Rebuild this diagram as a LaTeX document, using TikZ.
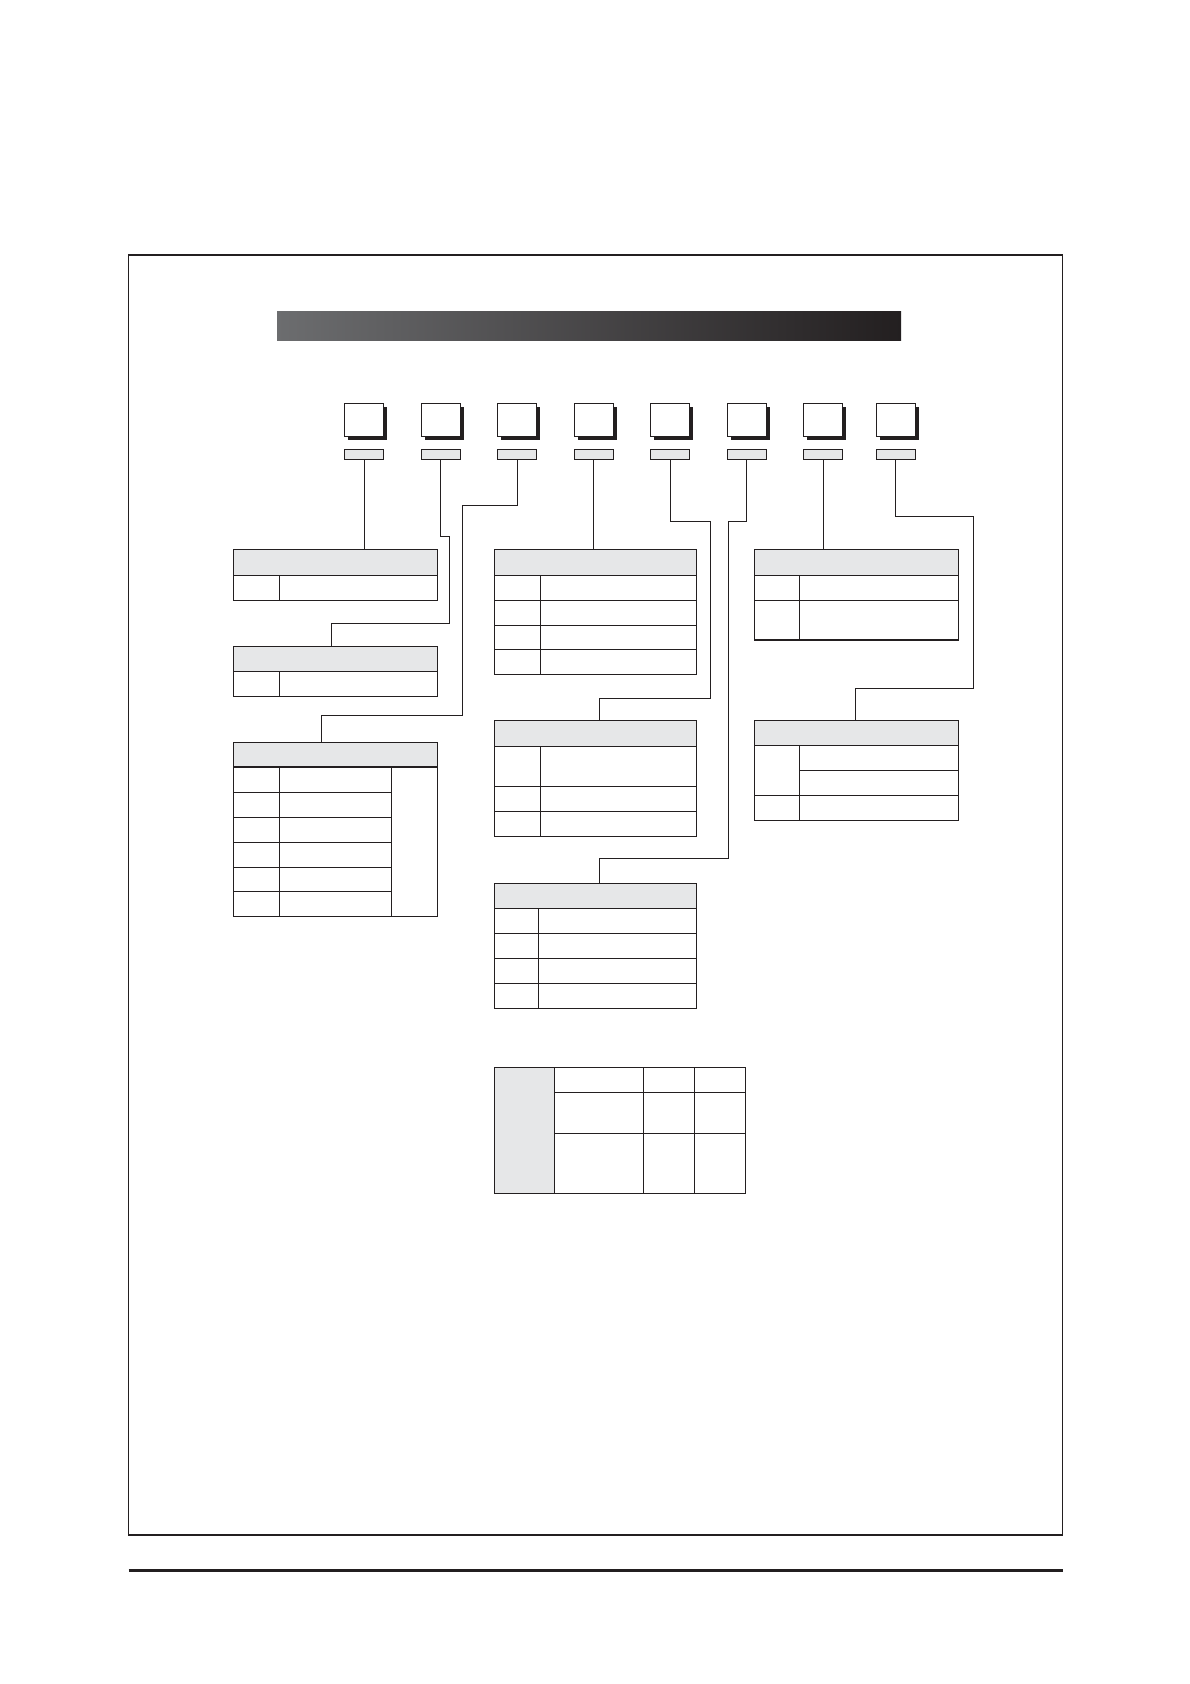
\documentclass[tikz,border=0pt]{standalone}
\usetikzlibrary{positioning,shadows}
\definecolor{encre}{RGB}{35,31,32}
\definecolor{grisclair}{RGB}{230,231,232}
\definecolor{grisbarre}{RGB}{108,109,111}
\begin{document}
\begin{tikzpicture}[
  x=1pt, y=-1pt,
  cadre/.style={draw=encre, line width=1.3pt},
  touche/.style={rectangle, draw=encre, fill=white, line width=1pt, minimum width=39pt, minimum height=33pt, inner sep=0pt,
    drop shadow={shadow xshift=3.3pt, shadow yshift=-3.3pt, fill=encre, opacity=1}},
  onglet/.style={rectangle, draw=encre, fill=grisclair, line width=0.8pt, minimum width=39pt, minimum height=10.5pt, inner sep=0pt},
  entete/.style={rectangle, draw=encre, fill=grisclair, line width=1.2pt, inner sep=0pt, outer sep=0pt},
  corps/.style={rectangle, draw=encre, line width=1.2pt, inner sep=0pt, outer sep=0pt},
  trait/.style={draw=encre, line width=1.1pt},
  fil/.style={draw=encre, line width=1pt}
]
  \useasboundingbox (0,0) rectangle (1190,1684);

  % Cadre et filet
  \draw[cadre] (128.5,255) rectangle (1062.5,1535);
  \draw[encre, line width=2.2pt] (128.5,1570.5) -- (1062.5,1570.5);

  % Barre de titre
  \shade[left color=grisbarre, right color=encre] (277,311) rectangle (901,340.7);

  % Touches et onglets
  \foreach \x [count=\i] in {364.3,440.8,517.3,593.8,670.3,746.7,823.3,895.7} {
    \node[touche] (touche\i) at (\x,420.3) {};
    \node[onglet] (onglet\i) at (\x,454.3) {};
  }

  % Tableau A
  \node[entete, minimum width=204pt, minimum height=26pt] (enteteA) at (335.3,562.3) {};
  \node[corps, minimum width=204pt, minimum height=25pt, below=0pt of enteteA] (corpsA) {};
  \draw[trait] ([xshift=46pt]corpsA.north west) -- ([xshift=46pt]corpsA.south west);

  % Tableau B
  \node[entete, minimum width=204pt, minimum height=25pt] (enteteB) at (335.3,658.8) {};
  \node[corps, minimum width=204pt, minimum height=25pt, below=0pt of enteteB] (corpsB) {};
  \draw[trait] ([xshift=46pt]corpsB.north west) -- ([xshift=46pt]corpsB.south west);

  % Tableau C
  \node[entete, minimum width=204pt, minimum height=24.7pt] (enteteC) at (335.3,754.7) {};
  \node[corps, minimum width=204pt, minimum height=149.3pt, below=0pt of enteteC] (corpsC) {};
  \draw[trait] ([xshift=46pt]corpsC.north west) -- ([xshift=46pt]corpsC.south west);
  \draw[trait] ([xshift=158pt]corpsC.north west) -- ([xshift=158pt]corpsC.south west);
  \foreach \d in {25,50.3,75.3,100.3,124.3}
    \draw[trait] ([yshift=-\d pt]corpsC.north west) -- ([xshift=158pt, yshift=-\d pt]corpsC.north west);

  % Tableau D
  \node[entete, minimum width=202pt, minimum height=26pt] (enteteD) at (595.3,562.3) {};
  \node[corps, minimum width=202pt, minimum height=99pt, below=0pt of enteteD] (corpsD) {};
  \draw[trait] ([xshift=46pt]corpsD.north west) -- ([xshift=46pt]corpsD.south west);
  \foreach \d in {25,50,74}
    \draw[trait] ([yshift=-\d pt]corpsD.north west) -- ([yshift=-\d pt]corpsD.north east);

  % Tableau E
  \node[entete, minimum width=202pt, minimum height=26pt] (enteteE) at (595.3,733.3) {};
  \node[corps, minimum width=202pt, minimum height=90pt, below=0pt of enteteE] (corpsE) {};
  \draw[trait] ([xshift=46pt]corpsE.north west) -- ([xshift=46pt]corpsE.south west);
  \foreach \d in {40,65}
    \draw[trait] ([yshift=-\d pt]corpsE.north west) -- ([yshift=-\d pt]corpsE.north east);

  % Tableau F
  \node[entete, minimum width=202pt, minimum height=25pt] (enteteF) at (595.3,895.8) {};
  \node[corps, minimum width=202pt, minimum height=100pt, below=0pt of enteteF] (corpsF) {};
  \draw[trait] ([xshift=44pt]corpsF.north west) -- ([xshift=44pt]corpsF.south west);
  \foreach \d in {25,50,75}
    \draw[trait] ([yshift=-\d pt]corpsF.north west) -- ([yshift=-\d pt]corpsF.north east);

  % Tableau G
  \node[entete, minimum width=204pt, minimum height=26pt] (enteteG) at (856.3,562.3) {};
  \node[corps, minimum width=204pt, minimum height=64.7pt, below=0pt of enteteG] (corpsG) {};
  \draw[trait] ([xshift=45pt]corpsG.north west) -- ([xshift=45pt]corpsG.south west);
  \draw[trait] ([yshift=-25pt]corpsG.north west) -- ([yshift=-25pt]corpsG.north east);

  % Tableau H
  \node[entete, minimum width=204pt, minimum height=25pt] (enteteH) at (856.3,732.8) {};
  \node[corps, minimum width=204pt, minimum height=75pt, below=0pt of enteteH] (corpsH) {};
  \draw[trait] ([xshift=45pt]corpsH.north west) -- ([xshift=45pt]corpsH.south west);
  \draw[trait] ([xshift=45pt, yshift=-25pt]corpsH.north west) -- ([yshift=-25pt]corpsH.north east);
  \draw[trait] ([yshift=-50pt]corpsH.north west) -- ([yshift=-50pt]corpsH.north east);

  % Tableau du bas
  \node[corps, minimum width=251pt, minimum height=126pt] (grilleI) at (619.8,1130.3) {};
  \node[entete, minimum width=60pt, minimum height=126pt, anchor=north west] (flancI) at (grilleI.north west) {};
  \draw[trait] ([xshift=149pt]grilleI.north west) -- ([xshift=149pt]grilleI.south west);
  \draw[trait] ([xshift=200pt]grilleI.north west) -- ([xshift=200pt]grilleI.south west);
  \draw[trait] ([yshift=-25pt]flancI.north east) -- ([yshift=-25pt]grilleI.north east);
  \draw[trait] ([yshift=-66pt]flancI.north east) -- ([yshift=-66pt]grilleI.north east);

  % Coudes des liaisons
  \coordinate (coudeB1) at (449.3,536);
  \coordinate (coudeB2) at (331.3,623.3);
  \coordinate (coudeC1) at (462.3,505.3);
  \coordinate (coudeC2) at (321.3,715);
  \coordinate (coudeE1) at (710.3,521.3);
  \coordinate (coudeE2) at (599.3,698.3);
  \coordinate (coudeF1) at (728.4,521.3);
  \coordinate (coudeF2) at (599.3,858.7);
  \coordinate (coudeH1) at (973.3,516.3);
  \coordinate (coudeH2) at (855.3,688.3);

  % Liaisons
  \draw[fil] (onglet1.south) -- (onglet1.south |- enteteA.north);
  \draw[fil] (onglet2.south) |- (coudeB1) |- (coudeB2) -- (coudeB2 |- enteteB.north);
  \draw[fil] (onglet3.south) |- (coudeC1) |- (coudeC2) -- (coudeC2 |- enteteC.north);
  \draw[fil] (onglet4.south) -- (onglet4.south |- enteteD.north);
  \draw[fil] (onglet5.south) |- (coudeE1) |- (coudeE2) -- (coudeE2 |- enteteE.north);
  \draw[fil] (onglet6.south) |- (coudeF1) |- (coudeF2) -- (coudeF2 |- enteteF.north);
  \draw[fil] (onglet7.south) -- (onglet7.south |- enteteG.north);
  \draw[fil] (onglet8.south) |- (coudeH1) |- (coudeH2) -- (coudeH2 |- enteteH.north);
\end{tikzpicture}
\end{document}
